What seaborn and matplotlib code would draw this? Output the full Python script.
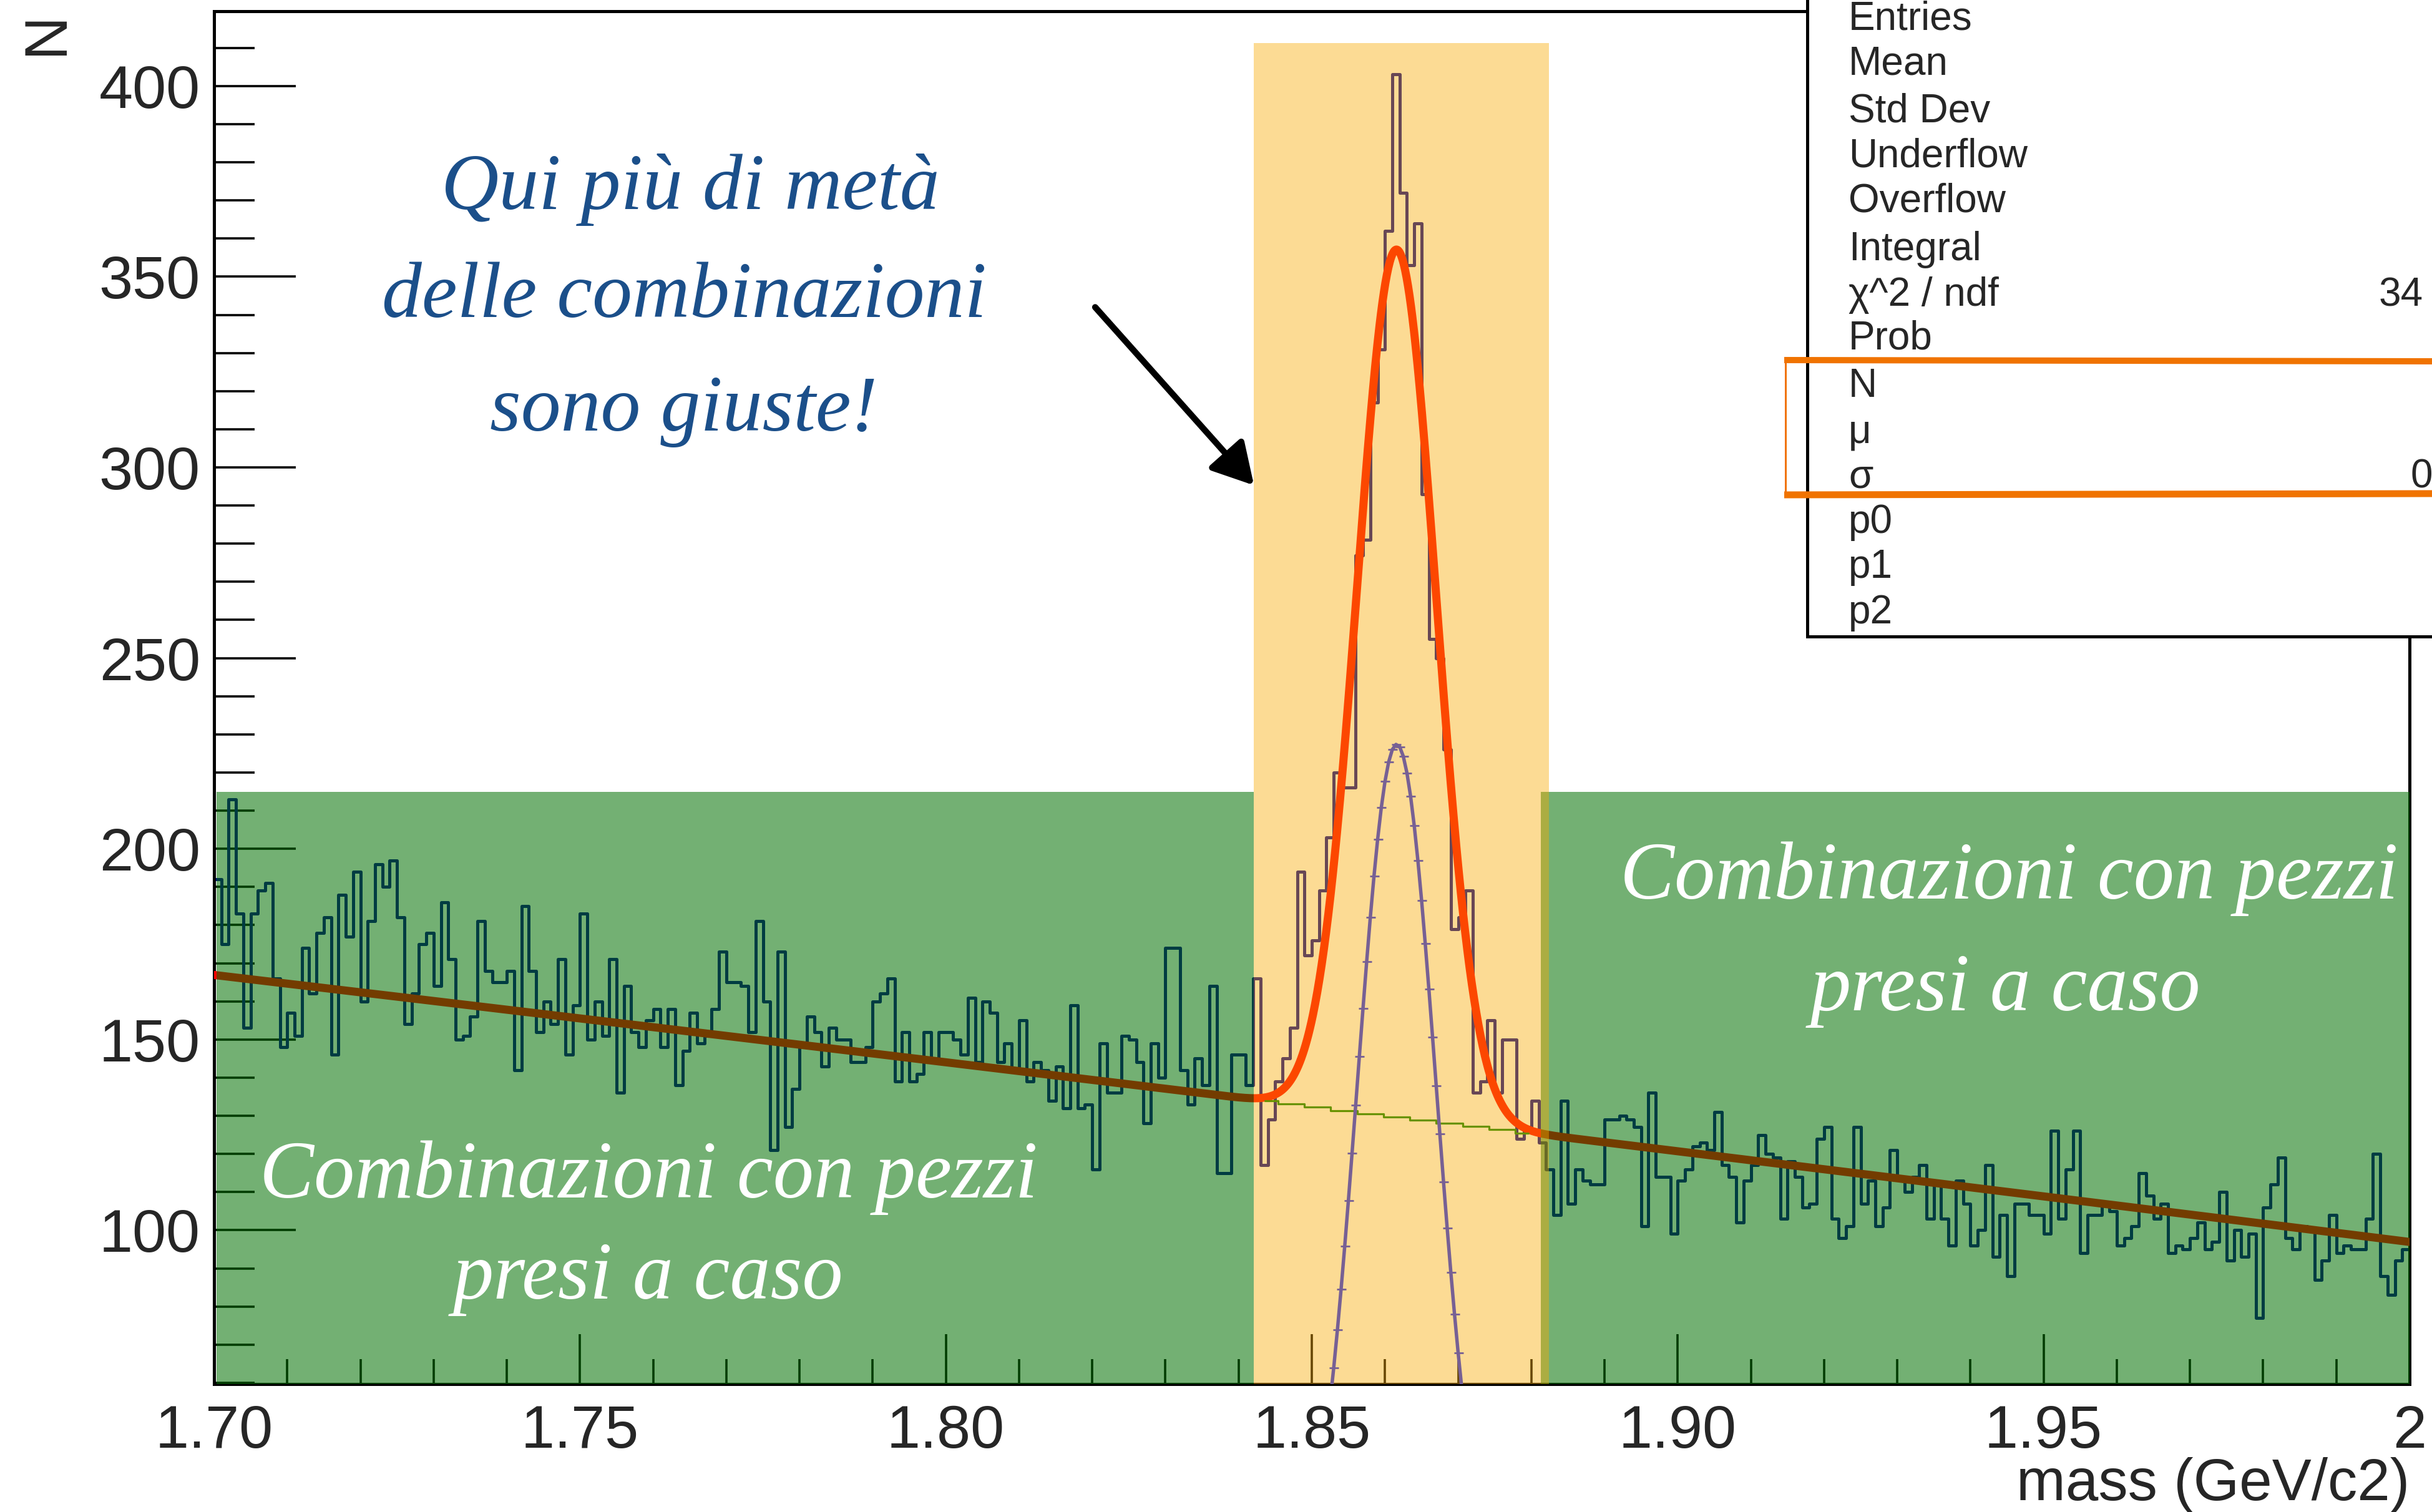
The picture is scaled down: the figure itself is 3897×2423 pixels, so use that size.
import numpy as np
import pandas as pd
import matplotlib
matplotlib.use("Agg")
import matplotlib.pyplot as plt
import seaborn as sns
from matplotlib.patches import Rectangle
from matplotlib.lines import Line2D
from matplotlib.ticker import MultipleLocator, FixedLocator

# ---------------- data ----------------
x_lo, x_hi, bin_w = 1.70, 2.00, 0.001

counts_170_174 = [192, 175, 213, 183, 153, 183, 189, 191, 166, 148, 157, 151, 174, 162, 178,
                  182, 146, 188, 177, 194, 160, 181, 196, 190, 197, 182, 154, 162, 175, 178,
                  164, 186, 171, 150, 151, 156, 181, 168, 165, 165, 168, 142, 185, 168, 152,
                  160, 154, 171, 146, 159]
counts_175_179 = [183, 150, 160, 151, 171, 136, 164, 152, 148, 155, 158, 148, 158, 138, 147,
                  157, 149, 151, 158, 173, 165, 165, 164, 152, 181, 160, 121, 173, 127, 137,
                  149, 156, 152, 143, 153, 150, 150, 144, 144, 148, 160, 162, 166, 139, 152,
                  139, 141, 152, 145, 152]
counts_180_184 = [152, 150, 146, 161, 144, 160, 157, 144, 149, 142, 155, 139, 144, 142, 134,
                  143, 132, 159, 132, 133, 116, 149, 136, 136, 151, 150, 144, 128, 149, 140,
                  174, 174, 142, 133, 145, 138, 164, 115, 115, 146, 146, 138]
counts_peak = [166, 117, 129, 139, 145, 153, 194, 172, 176, 189, 203, 220, 216, 216, 277,
               281, 317, 331, 362, 403, 372, 353, 364, 293, 255, 250, 226, 179, 182, 189,
               136, 139, 155, 136, 150, 150, 124, 127, 134, 123]
counts_188_189 = [116, 104, 134, 107, 116, 113, 112, 112, 129, 129, 130, 129, 127, 101, 136,
                  114, 114, 99]
counts_190_194 = [113, 116, 122, 123, 121, 131, 117, 114, 102, 113, 117, 125, 120, 119, 103,
                  118, 114, 106, 107, 124, 127, 103, 98, 101, 127, 107, 113, 101, 106, 121,
                  114, 110, 114, 117, 103, 112, 103, 96, 113, 107, 96, 100, 117, 93, 104,
                  88, 107, 107, 104]
counts_195_199 = [104, 99, 126, 103, 116, 126, 94, 104, 104, 107, 105, 96, 98, 101, 115,
                  109, 103, 107, 94, 96, 95, 98, 102, 95, 97, 110, 92, 100, 93, 99,
                  77, 106, 112, 119, 98, 95, 101, 100, 87, 92, 104, 94, 96, 95, 95,
                  103, 120, 88, 83, 92, 95]

# fit parameters (gaussian + pol2)
fit_N, fit_mu, fit_sigma = 227.4, 1.8616, 0.0054
fit_p0, fit_p1, fit_p2 = 488.0, -151.1, -22.22

# highlighted regions
side_top, sig_top = 215.0, 411.2
sig_lo, sig_hi = 1.8421, 1.8824
side_right_lo = 1.8813

xtick_vals = [1.70, 1.75, 1.80, 1.85, 1.90, 1.95, 2.00]
xtick_labels = ["1.70", "1.75", "1.80", "1.85", "1.90", "1.95", "2"]
ytick_vals = [100, 150, 200, 250, 300, 350, 400]
ytick_labels = ["100", "150", "200", "250", "300", "350", "400"]

stats_labels = ["Entries", "Mean", "Std Dev", "Underflow", "Overflow", "Integral",
                "\u03c7^2 / ndf", "Prob", "N", "\u03bc", "\u03c3", "p0", "p1", "p2"]

note_lines = ["Qui pi\u00f9 di met\u00e0", "delle combinazioni", "sono giuste!"]
side_lines = ["Combinazioni con pezzi", "presi a caso"]

# ---------------- figure ----------------
sns.set_style("ticks")
plt.rcParams["font.family"] = ["Liberation Sans", "DejaVu Sans"]

W, H, DPI = 3898, 2423, 100
PT = 72.0 / DPI  # points per pixel


def fx(px):
    return px / W


def fy(py):
    return 1.0 - py / H


fig = plt.figure(figsize=(W / DPI, H / DPI), dpi=DPI)
ax = fig.add_axes([fx(343), fy(2218), (3861 - 343) / W, (2218 - 18) / H])

counts = np.array(counts_170_174 + counts_175_179 + counts_180_184 + counts_peak
                  + counts_188_189 + counts_190_194 + counts_195_199, dtype=float)
edges = x_lo + bin_w * np.arange(len(counts) + 1)
centers = 0.5 * (edges[:-1] + edges[1:])
hist_df = pd.DataFrame({"mass": centers, "n": counts})

navy = (0.0, 0.0, 0.58)
sns.histplot(data=hist_df, x="mass", weights="n", bins=edges.tolist(), element="step",
             fill=False, color=navy, linewidth=5.0 * PT, ax=ax, zorder=2)


def bkg(x):
    return fit_p0 + fit_p1 * x + fit_p2 * x ** 2


def sig(x):
    return fit_N * np.exp(-0.5 * ((x - fit_mu) / fit_sigma) ** 2)


xf = np.linspace(x_lo, x_hi, 3000)
sns.lineplot(x=xf, y=bkg(xf) + sig(xf), color=(1.0, 0.0, 0.0), linewidth=13 * PT,
             ax=ax, estimator=None, sort=False, zorder=3)

# background component inside the signal window (coarse steps)
xb = np.arange(1.8436, 1.8816, 0.0036)
ax.plot(xb, bkg(xb), drawstyle="steps-mid", color=(0.0, 0.5, 0.0), lw=3.2 * PT, zorder=3)

# signal component with small markers
xs = np.arange(1.8430, 1.8800, 0.0005)
ax.plot(xs, sig(xs), color=(0.1, 0.17, 1.0), lw=5.5 * PT, marker="_", ms=15 * PT,
        mew=2.8 * PT, zorder=3)

ymin, ymax = 59.65, 419.6
ax.set_xlim(x_lo, x_hi)
ax.set_ylim(ymin, ymax)

# translucent highlight regions drawn on top (like the annotated screenshot)
green = (0.0, 111 / 255, 0.0)
orange = (250 / 255, 171 / 255, 0.0)
ax.add_patch(Rectangle((x_lo + 0.0003, ymin), sig_lo - x_lo - 0.0003, side_top - ymin,
                       facecolor=green, alpha=0.55, lw=0, zorder=5))
ax.add_patch(Rectangle((side_right_lo, ymin), x_hi - side_right_lo, side_top - ymin,
                       facecolor=green, alpha=0.55, lw=0, zorder=5))
ax.add_patch(Rectangle((sig_lo, ymin), sig_hi - sig_lo, sig_top - ymin,
                       facecolor=orange, alpha=0.42, lw=0, zorder=6))

# axes styling
ax.set_axisbelow(True)
ax.set_xlabel("")
ax.set_ylabel("")
ax.xaxis.set_major_locator(FixedLocator(xtick_vals))
ax.set_xticklabels(xtick_labels)
ax.xaxis.set_minor_locator(MultipleLocator(0.01))
ax.yaxis.set_major_locator(FixedLocator(ytick_vals))
ax.set_yticklabels(ytick_labels)
ax.yaxis.set_minor_locator(MultipleLocator(10))
ax.tick_params(axis="both", which="both", direction="in", top=False, right=False,
               width=3.6 * PT, color="black", labelsize=70)
ax.tick_params(axis="y", which="major", length=131 * PT, pad=16)
ax.tick_params(axis="y", which="minor", length=65 * PT)
ax.tick_params(axis="x", which="major", length=80 * PT, pad=23)
ax.tick_params(axis="x", which="minor", length=40 * PT)
for s in ax.spines.values():
    s.set_visible(True)
    s.set_linewidth(5 * PT)
    s.set_color("black")

fig.text(fx(75), fy(53), "N", rotation=90, ha="center", va="center", fontsize=70)
fig.text(fx(3861), fy(2404), "mass (GeV/c2)", ha="right", va="baseline", fontsize=68)

# arrow (straight, thick, drawn by hand in the original)
ax.annotate("", xy=(1.8421, 295.3), xytext=(1.8204, 342.0),
            arrowprops=dict(arrowstyle="-|>,head_length=0.8,head_width=0.45",
                            color="black", lw=10 * PT, mutation_scale=50,
                            shrinkA=0, shrinkB=0,
                            connectionstyle="arc3,rad=0.0"),
            zorder=8)

# handwritten-style notes
script_font = dict(family=["Liberation Serif", "DejaVu Serif"], style="italic")
for txt, cx, by in zip(note_lines, [1106, 1096, 1096], [335, 508, 690]):
    fig.text(fx(cx), fy(by), txt, ha="center", va="baseline", fontsize=92,
             color="#1B4F8A", zorder=9, **script_font)
for txt, cx, by in zip(side_lines, [1039, 1038], [1919, 2081]):
    fig.text(fx(cx), fy(by), txt, ha="center", va="baseline", fontsize=94,
             color="white", zorder=9, **script_font)
for txt, cx, by in zip(side_lines, [3219, 3213], [1440, 1619]):
    fig.text(fx(cx), fy(by), txt, ha="center", va="baseline", fontsize=94,
             color="white", zorder=9, **script_font)

# statistics box (cut by the figure edge)
fig.add_artist(Rectangle((fx(2896), fy(1020)), 0.4, 0.6, transform=fig.transFigure,
                         facecolor="white", edgecolor="black", lw=5 * PT, zorder=10,
                         clip_on=False))
stat_baselines = [47, 120, 196, 268, 340, 417, 490, 559, 636, 710, 781, 854, 926, 999]
for lab, by in zip(stats_labels, stat_baselines):
    fig.text(fx(2962), fy(by), lab, ha="left", va="baseline", fontsize=46, zorder=11)
fig.text(fx(3812), fy(490), "34", ha="left", va="baseline", fontsize=46, zorder=11)
fig.text(fx(3863), fy(781), "0", ha="left", va="baseline", fontsize=46, zorder=11)

# orange marker-pen frame around N, mu, sigma
pen = "#F07300"
fig.add_artist(Line2D([fx(2859), fx(3898)], [fy(577), fy(579)], transform=fig.transFigure,
                      color=pen, lw=10 * PT, zorder=12, solid_capstyle="butt"))
fig.add_artist(Line2D([fx(2859), fx(3898)], [fy(793), fy(791)], transform=fig.transFigure,
                      color=pen, lw=11 * PT, zorder=12, solid_capstyle="butt"))
fig.add_artist(Line2D([fx(2861), fx(2861)], [fy(577), fy(795)], transform=fig.transFigure,
                      color=pen, lw=3 * PT, zorder=12))

fig.savefig("out.png", dpi=DPI)
